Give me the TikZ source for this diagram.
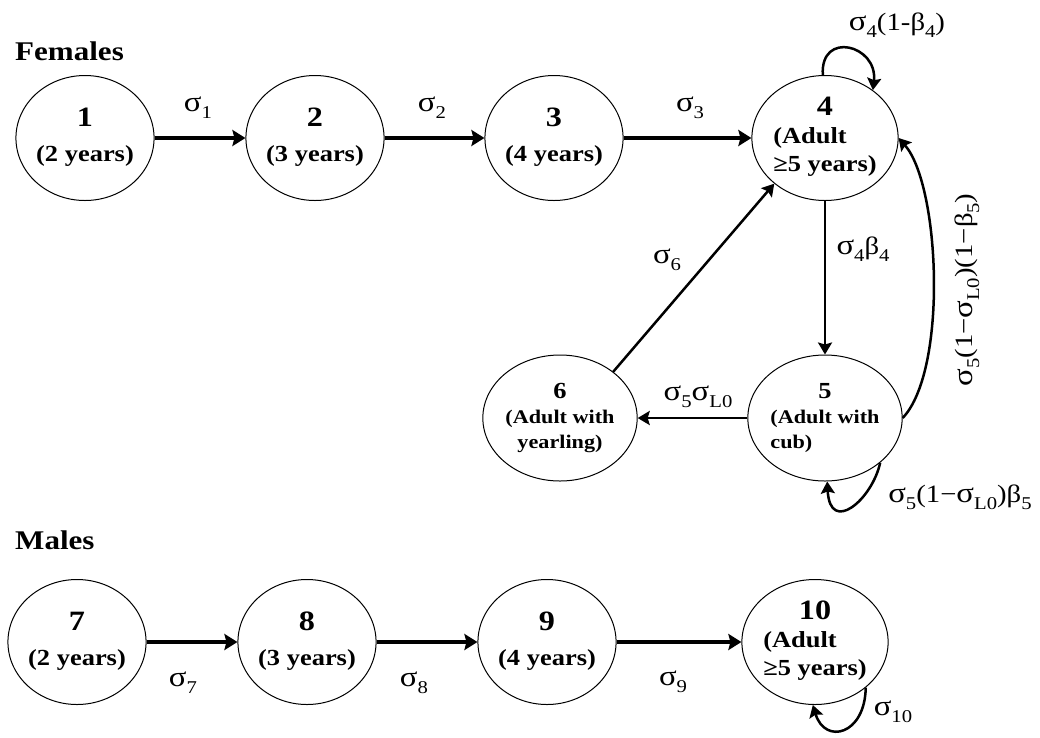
\documentclass[tikz,border=0pt]{standalone}
\usepackage{fontspec}
\setmainfont{Liberation Serif}[FakeStretch=1.15]
\usetikzlibrary{shapes.geometric,arrows.meta}
\newcommand{\lo}[1]{\raisebox{-0.28em}{\fontsize{18}{18}\selectfont #1}}
\newcommand{\sg}{{\fontsize{28.5}{28.5}\selectfont σ}}
\newcommand{\dg}[1]{{\fontsize{28}{28}\selectfont #1}}
\newcommand{\dgs}[1]{{\fontsize{23}{23}\selectfont #1}}
\begin{document}
\begin{tikzpicture}[x=1pt,y=-1pt,
  state/.style={draw=black, line width=1pt, ellipse, minimum width=137pt, minimum height=125pt, inner sep=0pt, font=\bfseries\fontsize{23}{28}\selectfont},
  wstate/.style={state, minimum width=145pt, minimum height=126pt, font=\bfseries\fontsize{19.3}{25}\selectfont},
  lab/.style={font=\fontsize{25}{30}\selectfont, inner sep=0pt},
  grouptitle/.style={font=\bfseries\fontsize{27}{30}\selectfont, inner sep=0pt, anchor=west},
  bigarrow/.style={draw=black, line width=4.5pt, -{Stealth[length=13pt,width=16pt,inset=2pt]}},
  smallarrow/.style={draw=black, line width=2.5pt, -{Stealth[length=12pt,width=14pt,inset=2pt]}}
]
\useasboundingbox (0,0) rectangle (1040,737);

% titles
\node[grouptitle] (tf) at (15,51) {Females};
\node[grouptitle] (tm) at (15,540) {Males};

% female states
\node[state] (n1) at (85,138) {\begin{tabular}{@{}c@{}}\dg{1}\\[7pt](2 years)\end{tabular}};
\node[state] (n2) at (315,138) {\begin{tabular}{@{}c@{}}\dg{2}\\[7pt](3 years)\end{tabular}};
\node[state] (n3) at (554,138) {\begin{tabular}{@{}c@{}}\dg{3}\\[7pt](4 years)\end{tabular}};
\node[state] (n4) at (825,138) {\begin{tabular}{@{}l@{}}\multicolumn{1}{@{}c@{}}{\dg{4}}\\(Adult\\≥5 years)\end{tabular}};
\node[wstate] (n5) at (825,418) {\begin{tabular}{@{}l@{}}\multicolumn{1}{@{}c@{}}{\dgs{5}}\\(Adult with\\cub)\end{tabular}};
\node[wstate] (n6) at (560,418) {\begin{tabular}{@{}c@{}}\dgs{6}\\(Adult with\\yearling)\end{tabular}};

% male states
\node[state] (n7) at (77,642) {\begin{tabular}{@{}c@{}}\dg{7}\\[7pt](2 years)\end{tabular}};
\node[state] (n8) at (307,642) {\begin{tabular}{@{}c@{}}\dg{8}\\[7pt](3 years)\end{tabular}};
\node[state] (n9) at (547,642) {\begin{tabular}{@{}c@{}}\dg{9}\\[7pt](4 years)\end{tabular}};
\node[state] (n10) at (815,642) {\begin{tabular}{@{}l@{}}\multicolumn{1}{@{}c@{}}{\dg{10}}\\(Adult\\≥5 years)\end{tabular}};

% female transitions
\draw[bigarrow] (n1) -- (n2);
\draw[bigarrow] (n2) -- (n3);
\draw[bigarrow] (n3) -- (n4);
\draw[smallarrow] (n4) -- (n5);
\draw[smallarrow] (n5) -- (n6);
\draw[smallarrow] (n6.41) -- (n4.222);
\draw[smallarrow] (n4.92) .. controls (820,30) and (878,45) .. (n4.45);
\draw[smallarrow] (n5.east) .. controls (948,370) and (940,185) .. (n4.east);
\draw[smallarrow] (n5.321) .. controls (872,500) and (830,535) .. (n5.272);

% male transitions
\draw[bigarrow] (n7) -- (n8);
\draw[bigarrow] (n8) -- (n9);
\draw[bigarrow] (n9) -- (n10);
\draw[smallarrow] (n10.318) .. controls (865,735) and (825,745) .. (n10.268);

% labels
\node[lab] (l1) at (198,108) {\sg\lo{1}};
\node[lab] (l2) at (432,108) {\sg\lo{2}};
\node[lab] (l3) at (690,108) {\sg\lo{3}};
\node[lab] (l4) at (897,25) {\sg\lo{4}(1-β\lo{4})};
\node[lab] (l44) at (863,249) {\sg\lo{4}β\lo{4}};
\node[lab] (l6) at (667,260) {\sg\lo{6}};
\node[lab] (l5) at (698,397) {\sg\lo{5}\sg\lo{L0}};
\node[lab, rotate=90] (l54) at (967,290) {\sg\lo{5}(1−\sg\lo{L0})(1−β\lo{5})};
\node[lab] (l55) at (960,497) {\sg\lo{5}(1−\sg\lo{L0})β\lo{5}};
\node[lab] (l7) at (183,683) {\sg\lo{7}};
\node[lab] (l8) at (414,683) {\sg\lo{8}};
\node[lab] (l9) at (673,682) {\sg\lo{9}};
\node[lab] (l10) at (893,712) {\sg\lo{10}};
\end{tikzpicture}
\end{document}
